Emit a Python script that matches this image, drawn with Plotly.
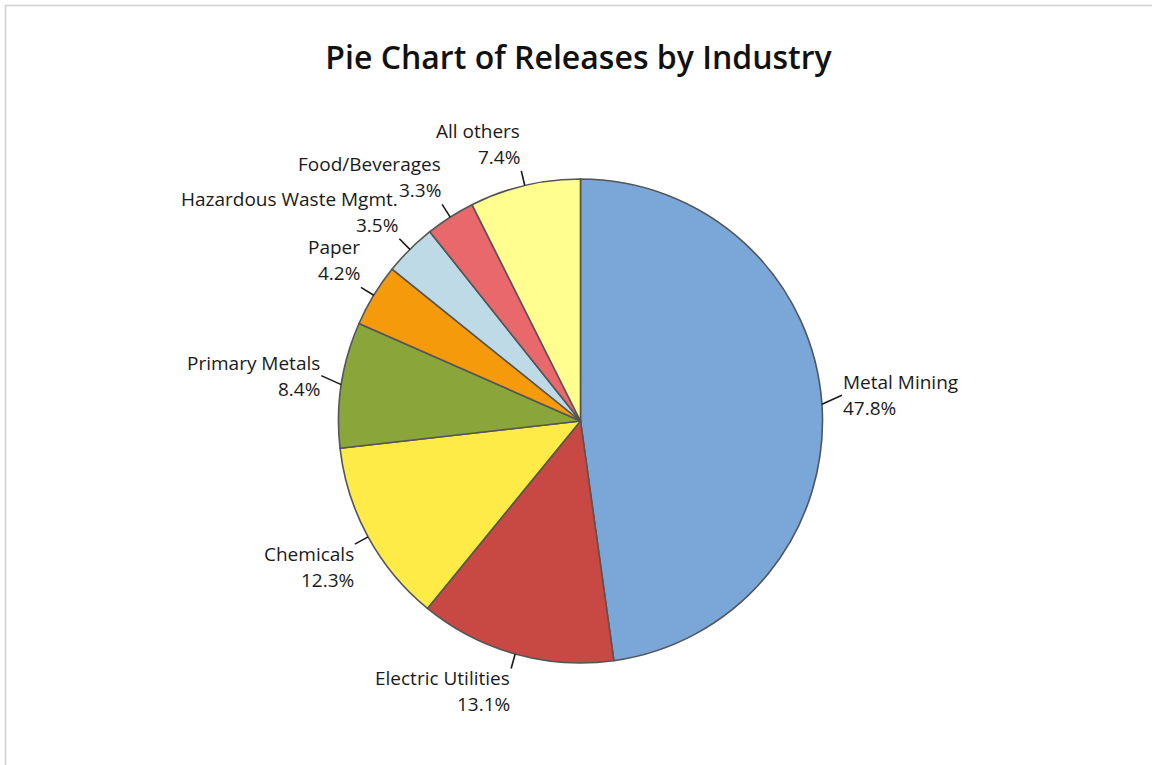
import math
import plotly.graph_objects as go

# Share of releases by industry (percent)
industries = [
    "Metal Mining",
    "Electric Utilities",
    "Chemicals",
    "Primary Metals",
    "Paper",
    "Hazardous Waste Mgmt.",
    "Food/Beverages",
    "All others",
]
shares = [47.8, 13.1, 12.3, 8.4, 4.2, 3.5, 3.3, 7.4]
slice_colors = [
    "#7BA7D8",
    "#C84844",
    "#FFEB47",
    "#8AA53A",
    "#F59A0A",
    "#BDDAE6",
    "#E8686B",
    "#FFFE8E",
]

# Page geometry (pixels)
W, H = 1152, 765
CX, CY, R = 580.5, 421.0, 242.0
LEADER = 15.0
SIDE_LEADER = (20.0, 9.0)   # leader for labels beside the pie: outward, upward
LINE_GAP = 26.0
LABEL_FONT = dict(family="Open Sans, Noto Sans, sans-serif", size=19, color="#1A1A1A")


def px_to_paper(x, y):
    return x / W, 1.0 - y / H


fig = go.Figure()
fig.add_trace(
    go.Pie(
        labels=industries,
        values=shares,
        sort=False,
        direction="clockwise",
        rotation=0,
        textinfo="none",
        hoverinfo="label+percent",
        showlegend=False,
        marker=dict(colors=slice_colors, line=dict(color="#555555", width=1.6)),
        domain=dict(
            x=[(CX - R) / W, (CX + R) / W],
            y=[1.0 - (CY + R) / H, 1.0 - (CY - R) / H],
        ),
    )
)

shapes = []
annotations = []
total = sum(shares)
cum = 0.0
for name, val in zip(industries, shares):
    mid = (cum + val / 2.0) / total
    cum += val
    theta = 2.0 * math.pi * mid
    dx, dy_up = math.sin(theta), math.cos(theta)
    sx, sy = CX + R * dx, CY - R * dy_up
    side = 1.0 if dx > 0 else -1.0

    if dy_up > 0.3:
        ex, ey = sx + LEADER * dx, sy - LEADER * dy_up
        yanchor = "bottom"
        ys = [ey - LINE_GAP - 1, ey - 1]
    elif dy_up < -0.3:
        ex, ey = sx + LEADER * dx, sy - LEADER * dy_up
        yanchor = "top"
        ys = [ey - 3, ey + LINE_GAP - 3]
    else:
        ex, ey = sx + side * SIDE_LEADER[0], sy - SIDE_LEADER[1]
        yanchor = "middle"
        ys = [ey - LINE_GAP / 2.0, ey + LINE_GAP / 2.0]

    x0, y0 = px_to_paper(sx, sy)
    x1, y1 = px_to_paper(ex, ey)
    shapes.append(
        dict(type="line", xref="paper", yref="paper", x0=x0, y0=y0, x1=x1, y1=y1,
             line=dict(color="#1A1A1A", width=1.6))
    )

    xanchor = "left" if dx > 0 else "right"
    tx = ex + (1 if dx > 0 else -1)
    for txt, yy in zip([name, f"{val:.1f}%"], ys):
        ax_, ay_ = px_to_paper(tx, yy)
        annotations.append(
            dict(x=ax_, y=ay_, xref="paper", yref="paper", text=txt, showarrow=False,
                 xanchor=xanchor, yanchor=yanchor, align=xanchor,
                 font=LABEL_FONT, borderpad=0, borderwidth=0)
        )

# Outer frame along the top and left edges
fx, fy = px_to_paper(5.5, 5.5)
shapes.append(
    dict(type="rect", xref="paper", yref="paper", x0=fx, y0=fy, x1=1.02, y1=-0.02,
         line=dict(color="#D0D0D0", width=1.5), fillcolor="rgba(0,0,0,0)")
)

fig.update_layout(
    width=W,
    height=H,
    margin=dict(l=0, r=0, t=0, b=0),
    paper_bgcolor="white",
    plot_bgcolor="white",
    title=dict(
        text="Pie Chart of Releases by Industry",
        x=578.5 / W,
        xanchor="center",
        y=1.0 - 58.0 / H,
        yanchor="middle",
        font=dict(family="Open Sans, Noto Sans, sans-serif", size=32, color="#111111", weight=600),
    ),
    shapes=shapes,
    annotations=annotations,
)

fig.write_html("out.html")
